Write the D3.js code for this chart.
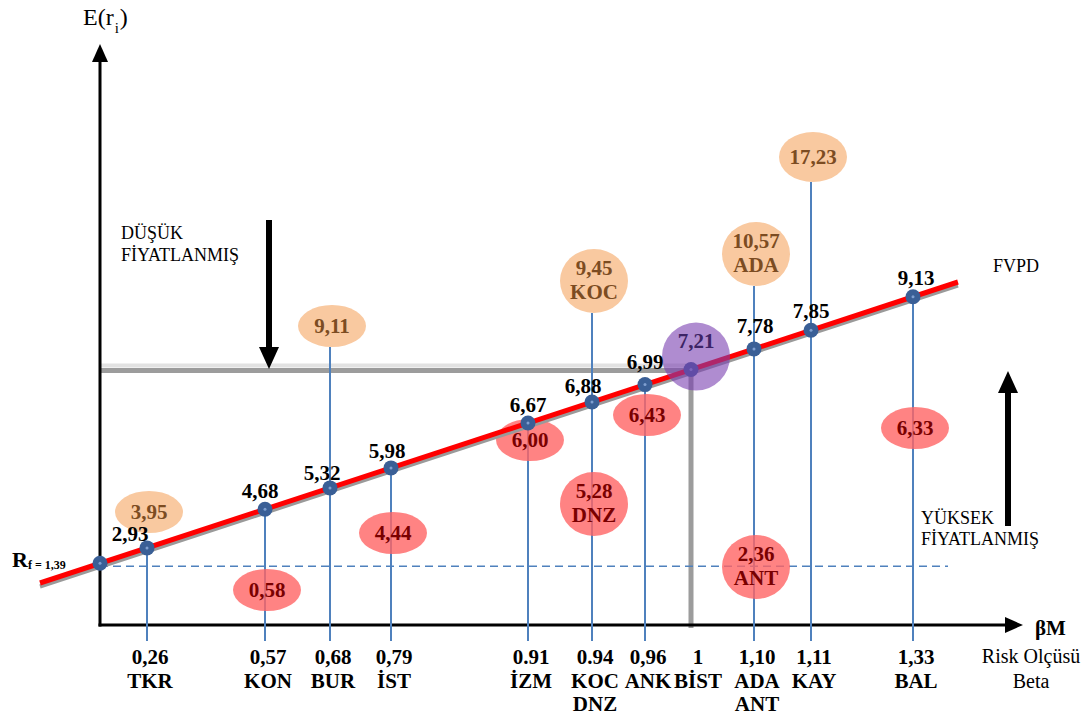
<!DOCTYPE html>
<html><head><meta charset="utf-8">
<script src="https://cdn.jsdelivr.net/npm/d3@7"></script>
<style>
body{margin:0;background:#fff}
svg{display:block}
text{font-family:"Liberation Serif","Times New Roman",serif}
</style>
</head><body>
<svg id="chart" width="1092" height="722"></svg>
<script>
// ---------------- DATA ----------------
const riskFree = 1.39;
const stockCodes   = ["TKR","KON","BUR","İST","İZM","KOC","ANK","BİST","ADA","KAY","BAL"];
const betas        = [0.26, 0.57, 0.68, 0.79, 0.91, 0.94, 0.96, 1, 1.10, 1.11, 1.33];
const betaLabels   = ["0,26","0,57","0,68","0,79","0.91","0.94","0,96","1","1,10","1,11","1,33"];
const tickNames    = [["TKR"],["KON"],["BUR"],["İST"],["İZM"],["KOC","DNZ"],["ANK"],["BİST"],["ADA","ANT"],["KAY"],["BAL"]];
const expectedRet  = [2.93, 4.68, 5.32, 5.98, 6.67, 6.88, 6.99, 7.21, 7.78, 7.85, 9.13];
const expectedLbl  = ["2,93","4,68","5,32","5,98","6,67","6,88","6,99","7,21","7,78","7,85","9,13"];

const actualCodes  = ["TKR","KON","BUR","İST","İZM","KOC","DNZ","ANK","ADA","ANT","KAY","BAL"];
const actualBetas  = [0.26, 0.57, 0.68, 0.79, 0.91, 0.94, 0.94, 0.96, 1.10, 1.10, 1.11, 1.33];
const actualRet    = [3.95, 0.58, 9.11, 4.44, 6.00, 9.45, 5.28, 6.43, 10.57, 2.36, 17.23, 6.33];
const actualLbl    = ["3,95","0,58","9,11","4,44","6,00","9,45","5,28","6,43","10,57","2,36","17,23","6,33"];

// ---------------- LAYOUT (schematic, not data) ----------------
const betaSlots   = [100,147,265,330,391,528,592,645,691,754,811,913]; // schematic x positions for [0, ...betas]
const badgeSlots  = [590,567,512,533,504,440,428,415,326,281,254,157]; // schematic y positions for sorted actual returns
const lblDx = [-17,-5,-8,-4,0,-9,0,0,1,0,3];
const lblDy = [-7,-11,-8,-10,-11,-9,-16,0,-16,-12,-12];
const FS = 21;

const svg = d3.select("#chart");
const x = d3.scaleLinear().domain([0, ...betas]).range(betaSlots);
const sortedRet = actualRet.slice().sort((a,b)=>a-b);
const yBadge = d3.scaleLinear().domain(sortedRet).range(badgeSlots);
// the SML drawn as a straight line in the schematic plane
const smlY = d3.scaleLinear().domain([x(-0.332), x(1.427)]).range([583, 282]);

const axisY = 625, axisX = x(0);
const blue = "#4f81bd";

// ------------- BİST reference (gray) lines -------------
const bx = x(1), by = smlY(x(1));
svg.append("line").attr("x1",axisX).attr("x2",bx).attr("y1",by-4).attr("y2",by-4)
  .attr("stroke","#e2e2e2").attr("stroke-width",4);
svg.append("line").attr("x1",axisX).attr("x2",bx+2).attr("y1",by+1).attr("y2",by+1)
  .attr("stroke","#9c9c9c").attr("stroke-width",5);
svg.append("line").attr("x1",bx).attr("x2",bx).attr("y1",by).attr("y2",axisY+3)
  .attr("stroke","#9c9c9c").attr("stroke-width",5);

// ------------- axes -------------
svg.append("line").attr("x1",axisX).attr("x2",axisX).attr("y1",axisY+1.5).attr("y2",60)
  .attr("stroke","#000").attr("stroke-width",3);
svg.append("path").attr("d",`M${axisX},44 L${axisX-8},62 L${axisX+8},62 Z`).attr("fill","#000");
svg.append("line").attr("x1",axisX-1.5).attr("x2",1008).attr("y1",axisY).attr("y2",axisY)
  .attr("stroke","#000").attr("stroke-width",3);
svg.append("path").attr("d",`M1023,${axisY} L1005,${axisY-8} L1005,${axisY+8} Z`).attr("fill","#000");

// ------------- Rf dashed line -------------
const rfY = smlY(x(0)) + 3;
svg.append("line").attr("x1",axisX).attr("x2",948).attr("y1",rfY).attr("y2",rfY)
  .attr("stroke",blue).attr("stroke-width",1.6).attr("stroke-dasharray","8,5");

// ------------- vertical drop lines -------------
const stocks = betas.map((b,i)=>({code:stockCodes[i], beta:b, er:expectedRet[i], lbl:expectedLbl[i],
  px:x(b), py:smlY(x(b)), i}));
const badges = actualRet.map((r,i)=>{
  const si = betas.indexOf(actualBetas[i]);
  const multi = actualBetas.filter(b=>b===actualBetas[i]).length>1;
  return {code:actualCodes[i], r, lbl:actualLbl[i], beta:actualBetas[i], multi,
    above: r > expectedRet[si], cx:x(actualBetas[i])+2, cy:yBadge(r), rx:34, ry: multi?32:21, si};
});
badges.forEach(b=>{ if(b.r===d3.max(actualRet)) b.ry=25; });

stocks.forEach(s=>{
  if (s.code==="BİST") return;
  let top = s.py;
  badges.filter(b=>b.si===s.i && b.above).forEach(b=>{
    if (b.cy + b.ry < s.py - 20) top = Math.min(top, b.cy + b.ry);
  });
  svg.append("line").attr("x1",s.px).attr("x2",s.px).attr("y1",top).attr("y2",641)
    .attr("stroke",blue).attr("stroke-width",2);
});

// ------------- badges (actual returns) -------------
badges.forEach(b=>{
  svg.append("ellipse").attr("cx",b.cx).attr("cy",b.cy).attr("rx",b.rx).attr("ry",b.ry)
    .attr("fill", b.above ? "#f9c9a0" : "#ff6464")
    .attr("fill-opacity", b.above ? 1 : 0.8);
  const col = b.above ? "#7c4c22" : "#7a0000";
  const lines = b.multi ? [b.lbl, b.code] : [b.lbl];
  const offs = b.multi ? [-6, 18] : [7];
  lines.forEach((t,k)=>{
    svg.append("text").attr("x",b.cx).attr("y",b.cy+offs[k]).attr("text-anchor","middle")
      .attr("font-size",FS).attr("font-weight","bold").attr("fill",col).text(t);
  });
});

// ------------- SML line -------------
const smlX = [x(-0.332), x(1.427)];
svg.append("line").attr("x1",smlX[0]).attr("x2",smlX[1])
  .attr("y1",smlY(smlX[0])+3.5).attr("y2",smlY(smlX[1])+3.5)
  .attr("stroke","#9a9a9a").attr("stroke-width",4);
svg.append("line").attr("x1",smlX[0]).attr("x2",smlX[1])
  .attr("y1",smlY(smlX[0])).attr("y2",smlY(smlX[1]))
  .attr("stroke","#ff0000").attr("stroke-width",5);

// ------------- points -------------
const pts = [{px:x(0), py:smlY(x(0))}, ...stocks];
pts.forEach(p=>{
  svg.append("circle").attr("cx",p.px).attr("cy",p.py).attr("r",7.5).attr("fill","#3a5f96");
  svg.append("circle").attr("cx",p.px).attr("cy",p.py).attr("r",1.5).attr("fill","#7f9fd0");
});

// BİST market circle
svg.append("circle").attr("cx",bx+5).attr("cy",by-13).attr("r",34)
  .attr("fill","#7a3fb0").attr("fill-opacity",0.6);
svg.append("text").attr("x",bx+5).attr("y",by-22).attr("text-anchor","middle")
  .attr("font-size",FS).attr("font-weight","bold").attr("fill","#3d2466").text(expectedLbl[7]);

// expected return labels
stocks.forEach(s=>{
  if (s.code==="BİST") return;
  svg.append("text").attr("x",s.px+lblDx[s.i]).attr("y",s.py+lblDy[s.i]).attr("text-anchor","middle")
    .attr("font-size",FS).attr("font-weight","bold").attr("fill","#000").text(s.lbl);
});

// ------------- beta tick labels -------------
stocks.forEach(s=>{
  const lines = [betaLabels[s.i], ...tickNames[s.i]];
  const dx = s.code==="BİST" ? 7 : 3;
  lines.forEach((t,k)=>{
    svg.append("text").attr("x",s.px+dx).attr("y",664+k*23.5).attr("text-anchor","middle")
      .attr("font-size",FS).attr("font-weight","bold").attr("fill","#000").text(t);
  });
});

// ------------- Rf label -------------
const rf = svg.append("text").attr("x",12).attr("y",567).attr("font-weight","bold").attr("fill","#000");
rf.append("tspan").attr("font-size",22).text("R");
rf.append("tspan").attr("font-size",12).attr("dy",2).text("f = " + String(riskFree).replace(".",","));

// ------------- axis titles -------------
const et = svg.append("text").attr("x",83).attr("y",25).attr("fill","#000");
et.append("tspan").attr("font-size",24).text("E(r");
et.append("tspan").attr("font-size",15).attr("dy",8).attr("dx",1).text("i");
et.append("tspan").attr("font-size",24).attr("dy",-8).attr("dx",1).text(")");

svg.append("text").attr("x",1035).attr("y",635).attr("font-size",FS).attr("font-weight","bold").text("βM");
svg.append("text").attr("x",1031).attr("y",663).attr("text-anchor","middle").attr("font-size",20).text("Risk Olçüsü");
svg.append("text").attr("x",1031).attr("y",688).attr("text-anchor","middle").attr("font-size",20).text("Beta");
svg.append("text").attr("x",993).attr("y",272).attr("font-size",18).text("FVPD");

// ------------- pricing annotations -------------
svg.append("text").attr("x",121).attr("y",239).attr("font-size",18).text("DÜŞÜK");
svg.append("text").attr("x",121).attr("y",261).attr("font-size",18).text("FİYATLANMIŞ");
svg.append("text").attr("x",921).attr("y",524).attr("font-size",18).text("YÜKSEK");
svg.append("text").attr("x",921).attr("y",545).attr("font-size",18).text("FİYATLANMIŞ");

svg.append("line").attr("x1",269).attr("x2",269).attr("y1",220).attr("y2",350)
  .attr("stroke","#000").attr("stroke-width",6);
svg.append("path").attr("d","M269,369 L259,347 L279,347 Z").attr("fill","#000");
svg.append("line").attr("x1",1008).attr("x2",1008).attr("y1",526).attr("y2",390)
  .attr("stroke","#000").attr("stroke-width",6);
svg.append("path").attr("d","M1008,371 L998,393 L1018,393 Z").attr("fill","#000");
</script>
</body></html>
